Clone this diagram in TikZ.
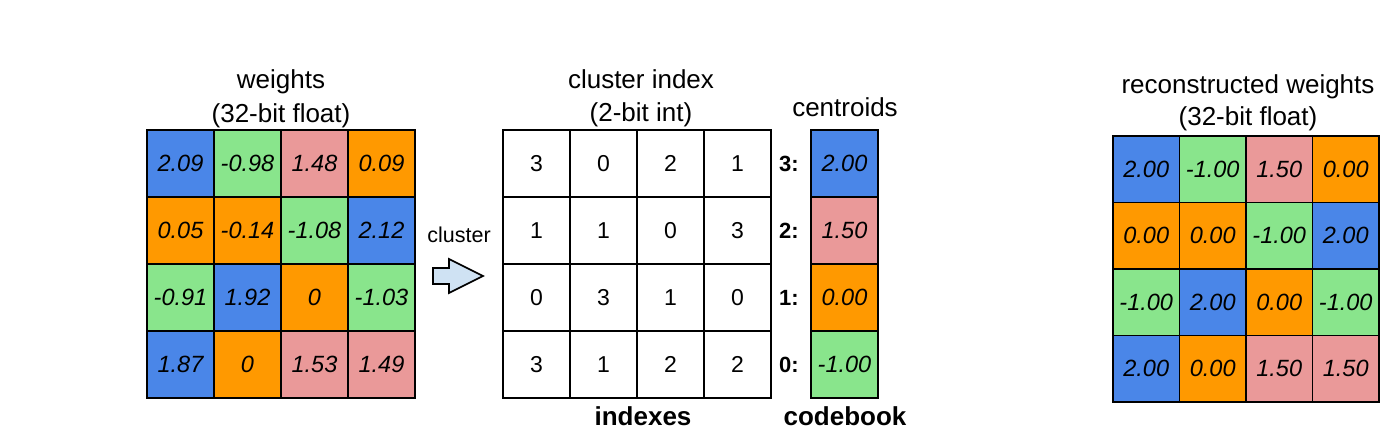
\documentclass[tikz,border=0pt]{standalone}
\usepackage{fontspec}
\setmainfont{Liberation Sans}
\definecolor{cblue}{RGB}{74,134,232}
\definecolor{cgreen}{RGB}{137,229,140}
\definecolor{cpink}{RGB}{234,153,153}
\definecolor{corange}{RGB}{255,153,0}
\definecolor{carrow}{RGB}{207,226,243}
\begin{document}
\begin{tikzpicture}[x=1pt,y=-1pt]
\useasboundingbox (0,0) rectangle (1384,429);
\tikzset{
  cell/.style={draw=black, line width=1.4pt, minimum size=67pt, inner sep=0pt,
    font=\fontsize{23.5}{23.5}\selectfont\itshape},
  rcell/.style={cell, minimum size=66.5pt},
  icell/.style={draw=black, line width=1.4pt, minimum size=67pt, inner sep=0pt,
    font=\fontsize{23}{23}\selectfont},
  title/.style={anchor=base, inner sep=0pt, font=\fontsize{26}{26}\selectfont},
  btitle/.style={anchor=base, inner sep=0pt, font=\fontsize{26}{26}\selectfont\bfseries},
  key/.style={inner sep=0pt, font=\fontsize{22}{22}\selectfont\bfseries},
  blockarrow/.style={draw=black, line width=1.6pt, fill=carrow, line join=miter}
}
% weights
\foreach \v/\c [count=\k from 0] in {2.09/cblue,-0.98/cgreen,1.48/cpink,0.09/corange,
  0.05/corange,-0.14/corange,-1.08/cgreen,2.12/cblue,
  -0.91/cgreen,1.92/cblue,0/corange,-1.03/cgreen,
  1.87/cblue,0/corange,1.53/cpink,1.49/cpink}{
  \pgfmathtruncatemacro\i{int(\k/4)}
  \pgfmathtruncatemacro\j{mod(\k,4)}
  \node[cell, fill=\c] (w-\i-\j) at ({180.5+67*\j},{163.5+67*\i}) {\v};
}
% cluster index
\foreach \v [count=\k from 0] in {3,0,2,1, 1,1,0,3, 0,3,1,0, 3,1,2,2}{
  \pgfmathtruncatemacro\i{int(\k/4)}
  \pgfmathtruncatemacro\j{mod(\k,4)}
  \node[icell] (c-\i-\j) at ({536.5+67*\j},{163.5+67*\i}) {\v};
}
% centroids
\foreach \v/\c/\n [count=\k from 0] in {2.00/cblue/3,1.50/cpink/2,0.00/corange/1,-1.00/cgreen/0}{
  \node[cell, fill=\c] (k-\k) at (844.5,{163.5+67*\k}) {\v};
  \node[key] (l-\k) at (789,{163.5+67*\k}) {\n:};
}
% reconstructed
\foreach \v/\c [count=\k from 0] in {2.00/cblue,-1.00/cgreen,1.50/cpink,0.00/corange,
  0.00/corange,0.00/corange,-1.00/cgreen,2.00/cblue,
  -1.00/cgreen,2.00/cblue,0.00/corange,-1.00/cgreen,
  2.00/cblue,0.00/corange,1.50/cpink,1.50/cpink}{
  \pgfmathtruncatemacro\i{int(\k/4)}
  \pgfmathtruncatemacro\j{mod(\k,4)}
  \node[rcell, fill=\c] (r-\i-\j) at ({1146.25+66.5*\j},{169.25+66.5*\i}) {\v};
}
% titles
\node[title] (t1) at (281,88) {weights};
\node[title] (t2) at (281,122) {(32-bit float)};
\node[title] (t3) at (641,88) {cluster index};
\node[title] (t4) at (641,121) {(2-bit int)};
\node[title] (t5) at (845,116) {centroids};
\node[title] (t6) at (1248,93) {reconstructed weights};
\node[title] (t7) at (1248,125) {(32-bit float)};
\node[btitle] (b1) at (643,425) {indexes};
\node[btitle] (b2) at (845,425) {codebook};
\node[anchor=base, inner sep=0pt, font=\fontsize{21.5}{21.5}\selectfont] (cl) at (459,242) {cluster};
% block arrow
\draw[blockarrow] (433,268) -- (449,268) -- (449,259) -- (483,276) -- (449,293) -- (449,284) -- (433,284) -- cycle;
\end{tikzpicture}
\end{document}
